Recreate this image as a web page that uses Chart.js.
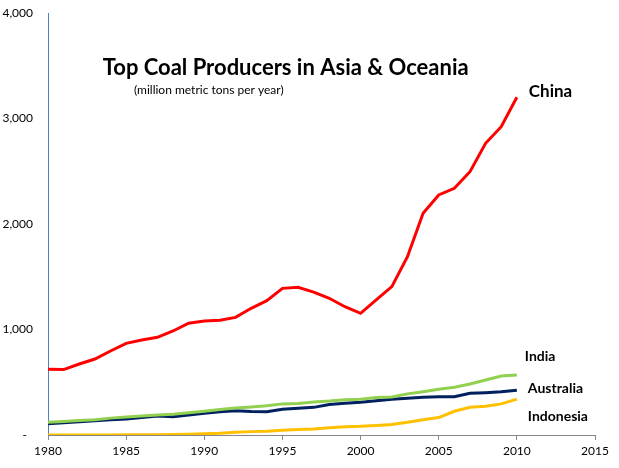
<!DOCTYPE html>
<html>
<head>
<meta charset="utf-8">
<script src="https://cdn.jsdelivr.net/npm/chart.js@4/dist/chart.umd.min.js"></script>
<style>
  body{margin:0;background:#fff;}
  #wrap{width:619px;height:468px;position:relative;}
</style>
</head>
<body>
<div id="wrap"><canvas id="chart"></canvas></div>
<script>
// coal production, million metric tons per year
const years = [1980,1981,1982,1983,1984,1985,1986,1987,1988,1989,1990,1991,1992,1993,1994,1995,
  1996,1997,1998,1999,2000,2001,2002,2003,2004,2005,2006,2007,2008,2009,2010];
const china = [623,620,673,720,796,869,900,926,986,1059,1081,1087,1115,1201,1273,1390,
  1400,1355,1296,1216,1153,1280,1406,1690,2101,2275,2338,2496,2765,2922,3201];
const india = [120,128,137,145,160,170,180,190,196,210,225,242,256,266,278,295,
  298,313,322,335,338,355,360,390,410,433,452,483,521,559,569];
const australia = [106,115,125,135,145,152,165,180,174,190,206,221,230,222,221,243,
  253,262,290,300,310,325,338,348,357,363,363,395,401,410,425];
const indonesia = [0.5,0.5,0.5,0.6,1,1.5,2,3,4,8,12,16,25,32,36,45,
  52,57,68,79,82,90,100,120,145,165,225,262,272,295,340];
const yTicks = [0,1000,2000,3000,4000];
const xTicks = [1980,1985,1990,1995,2000,2005,2010,2015];

const FONT = 'Lato, "Open Sans", sans-serif';

function pts(vals){ return vals.map((v,i)=>({x:years[i], y:v})); }

// end-of-line labels, offset from the last point of each series
const endLabels = [
  {text:'China', ds:0, dx:12, dy:-6, size:17},
  {text:'India', ds:2, dx:8, dy:-18, size:14},
  {text:'Australia', ds:3, dx:11, dy:-2, size:14},
  {text:'Indonesia', ds:1, dx:11, dy:17, size:14}
];

const textPlugin = {
  id:'texts',
  afterDatasetsDraw(chart){
    const ctx = chart.ctx, xs = chart.scales.x, ys = chart.scales.y;
    ctx.save();
    ctx.fillStyle = '#000';
    ctx.textBaseline = 'middle';
    ctx.textAlign = 'left';
    ctx.font = 'bold 22px ' + FONT;
    ctx.fillText('Top Coal Producers in Asia & Oceania', xs.getPixelForValue(1983.5), ys.getPixelForValue(3480));
    ctx.font = '12px ' + FONT;
    ctx.fillText('(million metric tons per year)', xs.getPixelForValue(1985.5), ys.getPixelForValue(3270));
    endLabels.forEach(l=>{
      const d = chart.data.datasets[l.ds].data;
      const last = d[d.length-1];
      ctx.font = 'bold ' + l.size + 'px ' + FONT;
      ctx.fillText(l.text, xs.getPixelForValue(last.x)+l.dx, ys.getPixelForValue(last.y)+l.dy);
    });
    ctx.restore();
  }
};

new Chart(document.getElementById('chart'),{
  type:'line',
  data:{datasets:[
    {label:'China', data:pts(china), borderColor:'#ff0000'},
    {label:'Indonesia', data:pts(indonesia), borderColor:'#ffc000'},
    {label:'India', data:pts(india), borderColor:'#92d050'},
    {label:'Australia', data:pts(australia), borderColor:'#002060'}
  ]},
  options:{
    responsive:true,
    maintainAspectRatio:false,
    animation:false,
    layout:{padding:{top:13, right:24, left:0, bottom:0}},
    elements:{line:{borderWidth:3, tension:0}, point:{radius:0}},
    plugins:{legend:{display:false}, tooltip:{enabled:false}},
    scales:{
      x:{
        type:'linear', min:1980, max:2015,
        afterBuildTicks(s){ s.ticks = xTicks.map(v=>({value:v})); },
        afterFit(s){ s.height = 33; },
        border:{display:true, color:'#868686', width:1},
        grid:{drawOnChartArea:false, drawTicks:true, tickLength:5, color:'#868686'},
        ticks:{color:'#000', font:{family:FONT, size:12}, padding:4, maxRotation:0,
          callback:v=>String(v)}
      },
      y:{
        min:0, max:4000,
        afterBuildTicks(s){ s.ticks = yTicks.map(v=>({value:v})); },
        afterFit(s){ s.width = 48; },
        border:{display:true, color:'#4f81bd', width:1},
        // invisible tick marks push the labels away from the axis line
        grid:{drawOnChartArea:false, drawTicks:true, tickLength:15, color:'rgba(0,0,0,0)'},
        ticks:{color:'#000', font:{family:FONT, size:12}, padding:0,
          callback:v=> v===0 ? '-  ' : v.toLocaleString('en-US')}
      }
    }
  },
  plugins:[textPlugin]
});
</script>
</body>
</html>
